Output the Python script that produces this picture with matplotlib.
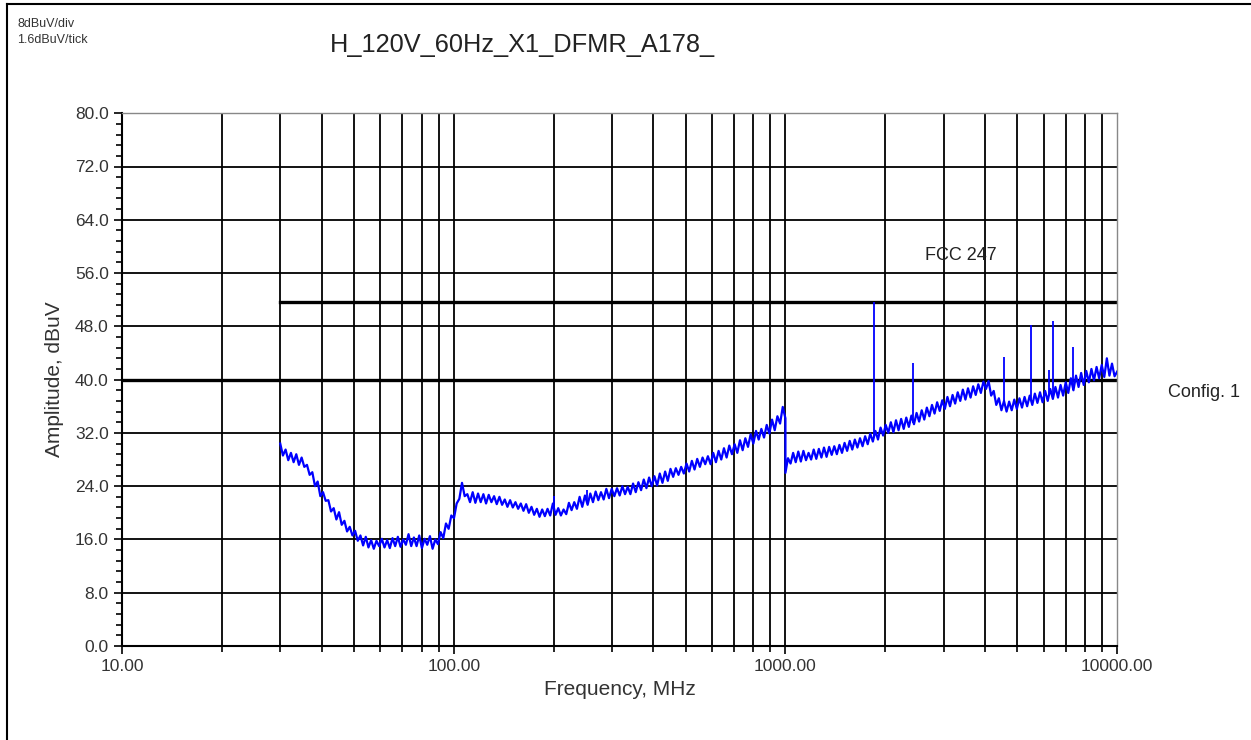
import numpy as np
import matplotlib.pyplot as plt
from matplotlib.lines import Line2D
from matplotlib.ticker import FixedLocator, MultipleLocator, NullFormatter

plt.rcParams['font.family'] = ['Liberation Sans', 'DejaVu Sans']

# sweep 30 MHz - 1 GHz (dBuV)
amp_low = [
    30.4, 28.6, 29.5, 27.9, 29.0, 27.6, 28.8, 27.2, 28.3, 26.9,
    27.2, 25.7, 26.1, 24.0, 24.7, 22.5, 23.1, 21.8, 21.9, 20.2,
    20.7, 19.0, 20.1, 18.2, 18.8, 17.2, 17.9, 16.6, 17.3, 15.8,
    16.6, 15.1, 16.4, 14.8, 15.9, 14.6, 15.8, 15.0, 16.1, 14.8,
    15.9, 14.7, 16.2, 15.0, 16.4, 14.9, 16.0, 15.2, 16.8, 15.0,
    16.3, 15.0, 16.6, 14.7, 16.1, 15.2, 16.5, 14.6, 16.0, 15.3,
    17.1, 16.2, 18.4, 17.6, 19.6, 19.2, 21.4, 22.1, 24.5, 22.5,
    22.8, 21.6, 23.1, 21.5, 22.9, 21.6, 22.8, 21.4, 22.7, 21.6,
    22.5, 21.3, 22.4, 21.2, 22.0, 20.9, 21.9, 20.8, 21.6, 20.6,
    21.4, 20.3, 21.3, 20.0, 20.9, 19.7, 20.6, 19.4, 20.5, 19.5,
    20.6, 19.6, 21.4, 19.7, 20.7, 19.6, 20.5, 19.8, 21.5, 20.4,
    21.6, 20.6, 22.4, 20.9, 22.6, 21.2, 22.9, 21.6, 23.2, 21.9,
    23.1, 22.0, 23.6, 22.2, 23.6, 22.5, 23.7, 22.6, 24.0, 22.8,
    23.9, 22.8, 24.4, 23.1, 24.6, 23.4, 25.0, 23.7, 25.3, 24.0,
    25.5, 24.1, 25.9, 24.5, 26.2, 24.8, 26.6, 25.4, 26.7, 25.7,
    26.9, 25.9, 27.4, 26.2, 27.8, 26.5, 28.1, 26.9, 28.3, 27.3,
    28.5, 27.3, 29.0, 27.6, 29.3, 28.0, 29.7, 28.3, 30.1, 28.8,
    30.3, 29.0, 30.9, 29.4, 31.2, 29.9, 31.8, 30.4, 32.3, 31.0,
    32.6, 31.3, 33.2, 31.9, 34.0, 32.4, 34.5, 33.4, 35.9, 34.2,
]

# sweep 1 GHz - 10 GHz (dBuV)
amp_high = [
    26.0, 28.2, 27.4, 29.0, 27.6, 29.2, 27.7, 29.3, 27.9, 29.0,
    28.0, 29.5, 28.1, 29.6, 28.3, 29.8, 28.4, 29.9, 28.7, 30.0,
    28.8, 30.2, 29.0, 30.5, 29.3, 30.8, 29.5, 31.0, 29.8, 31.2,
    30.0, 31.5, 30.3, 31.9, 30.7, 32.3, 31.0, 32.8, 31.6, 33.2,
    32.0, 33.6, 32.1, 33.9, 32.4, 34.1, 32.6, 34.3, 32.9, 34.6,
    33.3, 35.0, 33.7, 35.4, 34.0, 35.8, 34.5, 36.2, 34.9, 36.6,
    35.3, 36.9, 35.6, 37.4, 36.0, 37.7, 36.4, 38.1, 36.8, 38.5,
    37.0, 38.7, 37.3, 39.0, 37.7, 39.3, 38.0, 39.7, 38.6, 39.8,
    37.6, 38.3, 36.2, 37.2, 35.4, 36.8, 35.2, 36.7, 35.4, 37.0,
    35.6, 37.2, 35.8, 37.4, 36.0, 37.6, 36.2, 37.9, 36.5, 38.1,
    36.6, 38.3, 36.8, 38.6, 37.1, 38.9, 37.3, 39.2, 37.6, 39.6,
    38.0, 40.2, 38.4, 40.6, 38.9, 41.0, 39.2, 41.3, 39.6, 41.6,
    39.9, 41.9, 40.2, 42.2, 40.4, 43.2, 40.6, 42.4, 40.5, 41.2,
]

# narrowband emissions
spike_freq = [200, 252, 1855, 2420, 4560, 5500, 6230, 6410, 7360]
spike_base = [20.8, 21.8, 31.5, 33.5, 36.5, 37.0, 37.5, 37.5, 38.5]
spike_peak = [22.6, 23.4, 51.6, 42.5, 43.4, 48.2, 41.4, 48.8, 44.9]

fcc_limit = 51.6
config_level = 40.0

freq = np.concatenate([np.geomspace(30, 1000, len(amp_low)),
                       np.geomspace(1000, 10000, len(amp_high))])
amp = np.array(amp_low + amp_high)

fig = plt.figure(figsize=(12.51, 7.40), dpi=100)
ax = fig.add_axes([0.0975, 0.127, 0.7955, 0.720])

ax.set_xscale('log')
ax.set_xlim(10, 10000)
ax.set_ylim(0, 80)

grid_x = [m * d for d in (10, 100, 1000) for m in range(2, 10)] + [100, 1000]
for gx in grid_x:
    ax.axvline(gx, color='black', lw=1.3, zorder=1)
for gy in np.arange(8, 80, 8):
    ax.axhline(gy, color='black', lw=1.3, zorder=1)

# limit lines
ax.plot([30, 10000], [fcc_limit, fcc_limit], color='black', lw=2.4, zorder=2)
ax.axhline(config_level, color='black', lw=2.4, zorder=2)

ax.plot(freq, amp, color='#0000ff', lw=1.6, zorder=3)
ax.vlines(spike_freq, spike_base, spike_peak, color='#0000ff', lw=1.3, zorder=3)

ax.text(2637, 58.7, 'FCC 247', fontsize=13, va='center', ha='left',
        color='#222222')
ax.text(1.051, 38.1, 'Config. 1', fontsize=13, va='center', ha='left',
        color='#222222', transform=ax.get_yaxis_transform())

ax.xaxis.set_major_locator(FixedLocator([10, 100, 1000, 10000]))
ax.xaxis.set_minor_locator(FixedLocator(grid_x))
ax.xaxis.set_minor_formatter(NullFormatter())
ax.set_xticklabels(['10.00', '100.00', '1000.00', '10000.00'])
ax.yaxis.set_major_locator(MultipleLocator(8))
ax.yaxis.set_minor_locator(MultipleLocator(1.6))
ax.yaxis.set_major_formatter(lambda v, p: f'{v:.1f}')
ax.tick_params(axis='both', which='major', length=6, width=1.2, labelsize=12.5,
               labelcolor='#333333')
ax.tick_params(axis='both', which='minor', length=4, width=1.2)

for side in ('top', 'right'):
    ax.spines[side].set_color('#888888')
    ax.spines[side].set_linewidth(1.0)
for side in ('left', 'bottom'):
    ax.spines[side].set_linewidth(1.5)

ax.set_xlabel('Frequency, MHz', fontsize=15, color='#333333', labelpad=4)
ax.set_ylabel('Amplitude, dBuV', fontsize=15, color='#333333', labelpad=8)

fig.text(0.264, 0.939, 'H_120V_60Hz_X1_DFMR_A178_', fontsize=18.3,
         ha='left', va='center', color='#222222')
fig.text(0.014, 0.9676, '8dBuV/div', fontsize=9, ha='left', va='center',
         color='#333333')
fig.text(0.014, 0.946, '1.6dBuV/tick', fontsize=9, ha='left', va='center',
         color='#333333')

# page frame
fig.add_artist(Line2D([0.0056, 0.0056], [0, 0.9946], color='black', lw=1.5,
                      transform=fig.transFigure))
fig.add_artist(Line2D([0.0056, 1.0], [0.9946, 0.9946], color='black', lw=1.5,
                      transform=fig.transFigure))

fig.savefig('out.png', dpi=100)
